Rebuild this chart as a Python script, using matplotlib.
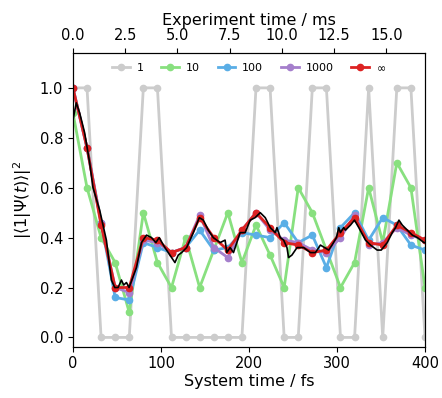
import matplotlib.pyplot as plt
import numpy as np

# sampling times of the measured points (fs)
t_sys = np.arange(0, 401, 16)

# measured populations for different shot counts
p_1 = [1, 1, 0, 0, 0, 1, 1, 0, 0, 0, 0, 0, 0, 1, 1, 0, 0, 1, 1, 0, 0, 1, 0, 1, 1, 0]
p_10 = [0.9, 0.6, 0.4, 0.3, 0.1, 0.5, 0.3, 0.2, 0.4, 0.2, 0.35, 0.5, 0.3,
        0.45, 0.33, 0.2, 0.6, 0.5, 0.35, 0.2, 0.3, 0.6, 0.38, 0.7, 0.6, 0.2]
p_100 = [1.0, 0.76, 0.46, 0.16, 0.15, 0.38, 0.36, 0.34, 0.36, 0.43, 0.35, 0.36, 0.42,
         0.41, 0.40, 0.46, 0.38, 0.41, 0.28, 0.44, 0.50, 0.39, 0.48, 0.45, 0.37, 0.35]
p_1000 = [1.0, 0.76, 0.46, 0.20, 0.18, 0.39, 0.38, 0.34, 0.36, 0.49, 0.36, 0.32, 0.43,
          0.50, 0.43, 0.39, 0.38, 0.35, 0.34, 0.40, 0.49, 0.37, 0.38, 0.44, 0.41, 0.39]
p_inf = [1.0, 0.76, 0.45, 0.20, 0.20, 0.40, 0.39, 0.34, 0.36, 0.48, 0.40, 0.35, 0.43,
         0.50, 0.44, 0.38, 0.37, 0.34, 0.35, 0.42, 0.48, 0.38, 0.37, 0.45, 0.42, 0.39]

# exact reference curve
t_exact = [0, 0.8, 3.8, 7.6, 13.3, 19, 22.8, 30.4, 38, 43.7, 47.5, 51.3, 55.1, 57.7,
           60.8, 63.8, 72.2, 77.9, 83.6, 89.3, 94.2, 98, 104.5, 110.2, 114, 115.9,
           119.7, 123.5, 129.2, 136.8, 143.6, 148.2, 153.8, 159.5, 167.2, 172.9, 174.8,
           178.6, 182.4, 190, 195.7, 201.4, 207, 212.8, 218.5, 224.2, 229.9, 231.8,
           235.6, 239.4, 243.2, 245, 248.8, 254.6, 262.2, 269.8, 275.5, 281.2, 290.6,
           294.4, 299.4, 302, 303.9, 307.7, 309.6, 315.3, 319.9, 324.8, 332.4, 338.1,
           345.7, 350.3, 357.1, 362.8, 366.6, 370.4, 374.2, 379.9, 385.6, 391.3, 398.9, 400]
p_exact = [0.87, 0.885, 0.94, 0.90, 0.82, 0.70, 0.60, 0.51, 0.39, 0.23, 0.20, 0.20, 0.23, 0.21,
           0.22, 0.20, 0.28, 0.38, 0.41, 0.40, 0.38, 0.40, 0.36, 0.33, 0.31, 0.30,
           0.33, 0.34, 0.36, 0.42, 0.48, 0.47, 0.43, 0.40, 0.38, 0.39, 0.34,
           0.36, 0.34, 0.42, 0.42, 0.47, 0.48, 0.50, 0.48, 0.44, 0.42, 0.44,
           0.40, 0.39, 0.36, 0.32, 0.33, 0.36, 0.36, 0.34, 0.34, 0.37, 0.35,
           0.37, 0.40, 0.44, 0.42, 0.44, 0.43, 0.45, 0.47, 0.44, 0.39, 0.37,
           0.35, 0.35, 0.38, 0.42, 0.44, 0.47, 0.45, 0.43, 0.41, 0.40, 0.38, 0.38]

labels = ['1', '10', '100', '1000', r'$\infty$']
colors = ['#cccccc', '#88e07f', '#5aaee6', '#a57fcc', '#dd2222']
series = [p_1, p_10, p_100, p_1000, p_inf]

t_max_exp = 16.85  # ms at 400 fs

fig = plt.figure(figsize=(4.42, 3.98), dpi=100)
ax = fig.add_axes([0.165, 0.129, 0.7965, 0.738])

for vals, col, lab in zip(series, colors, labels):
    ax.plot(t_sys, vals, '-o', color=col, lw=2, ms=4.5, label=lab)
ax.plot(t_exact, p_exact, color='black', lw=1.2)

ax.set_xlim(0, 400)
ax.set_ylim(-0.037, 1.14)
ax.set_xticks([0, 100, 200, 300, 400])
ax.set_yticks([0.0, 0.2, 0.4, 0.6, 0.8, 1.0])
ax.set_xlabel('System time / fs', fontsize=11.5, labelpad=2)
ax.set_ylabel(r'$|\langle 1|\Psi(t)\rangle|^2$', fontsize=11.5)
ax.tick_params(labelsize=10.5)

ax.legend(loc='upper center', ncol=5, frameon=False, fontsize=8,
          handlelength=1.6, columnspacing=1.6, handletextpad=0.6,
          bbox_to_anchor=(0.5, 1.0))

ax2 = ax.twiny()
ax2.set_xlim(0, t_max_exp)
ax2.set_xticks([0, 2.5, 5, 7.5, 10, 12.5, 15])
ax2.set_xticklabels(['0.0', '2.5', '5.0', '7.5', '10.0', '12.5', '15.0'])
ax2.set_xlabel('Experiment time / ms', fontsize=11.5, labelpad=2)
ax2.tick_params(labelsize=10.5)

fig.savefig('out.png', dpi=100)
